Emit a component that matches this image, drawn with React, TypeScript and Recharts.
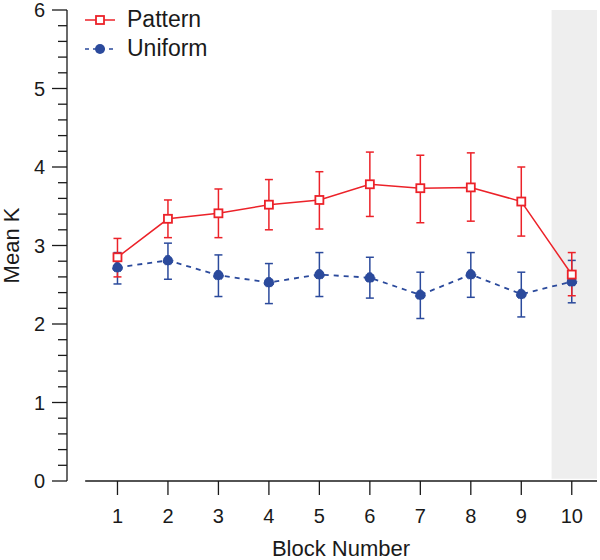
import {
  ComposedChart,
  ErrorBar,
  Label,
  Legend,
  Line,
  ReferenceArea,
  ReferenceLine,
  XAxis,
  YAxis,
} from "recharts"

const blocks = [1, 2, 3, 4, 5, 6, 7, 8, 9, 10]

const patternMean = [2.85, 3.34, 3.41, 3.52, 3.58, 3.78, 3.73, 3.74, 3.56, 2.63]
const patternLow = [2.6, 3.1, 3.1, 3.2, 3.21, 3.37, 3.29, 3.31, 3.12, 2.36]
const patternHigh = [3.09, 3.58, 3.72, 3.84, 3.94, 4.19, 4.15, 4.18, 4.0, 2.91]

const uniformMean = [2.72, 2.81, 2.62, 2.53, 2.63, 2.59, 2.37, 2.63, 2.38, 2.54]
const uniformLow = [2.51, 2.57, 2.35, 2.26, 2.35, 2.33, 2.07, 2.34, 2.09, 2.27]
const uniformHigh = [2.91, 3.03, 2.88, 2.77, 2.91, 2.85, 2.66, 2.91, 2.66, 2.81]

const xTicks = [1, 2, 3, 4, 5, 6, 7, 8, 9, 10]
const yMajorTicks = [0, 1, 2, 3, 4, 5, 6]
const yTicks = yMajorTicks
  .flatMap((t) => (t < 6 ? [t, t + 0.2, t + 0.4, t + 0.6, t + 0.8] : [t]))
  .map((t) => Math.round(t * 10) / 10)

const RED = "#ec2229"
const BLUE = "#2b4a9c"
const INK = "#1a1a1a"
const FONT = '"Liberation Sans", Arial, Helvetica, sans-serif'

const data = blocks.map((b, i) => ({
  block: b,
  pattern: patternMean[i],
  patternErr: [patternMean[i] - patternLow[i], patternHigh[i] - patternMean[i]],
  uniform: uniformMean[i],
  uniformErr: [uniformMean[i] - uniformLow[i], uniformHigh[i] - uniformMean[i]],
}))

const Y_TICK_SIZE = 15
const Y_TICK_MARGIN = 7

function YTick(props: any) {
  const { x, y, payload } = props
  const axisX = x + Y_TICK_SIZE + Y_TICK_MARGIN
  const v = payload.value as number
  const major = Math.abs(v - Math.round(v)) < 1e-6
  return (
    <g>
      <line
        x1={axisX - (major ? Y_TICK_SIZE : 9)}
        x2={axisX}
        y1={y}
        y2={y}
        stroke={INK}
        strokeWidth={1.3}
      />
      {major && (
        <text
          x={x}
          y={y}
          dy="0.355em"
          textAnchor="end"
          fontSize={20}
          fill={INK}
          fontFamily={FONT}
        >
          {v}
        </text>
      )}
    </g>
  )
}

function SquareDot(props: any) {
  const { cx, cy } = props
  if (cx == null || cy == null) return null
  return (
    <rect
      x={cx - 4}
      y={cy - 4}
      width={8}
      height={8}
      fill="#fff"
      stroke={RED}
      strokeWidth={1.8}
    />
  )
}

function LegendContent() {
  const rows = [
    { name: "Pattern", color: RED, dash: undefined, square: true },
    { name: "Uniform", color: BLUE, dash: "4 4", square: false },
  ]
  return (
    <div style={{ fontFamily: FONT }}>
      {rows.map((r) => (
        <div
          key={r.name}
          style={{ display: "flex", alignItems: "center", height: 29 }}
        >
          <svg width={32} height={20} style={{ marginRight: 11 }}>
            <line
              x1={1}
              x2={31}
              y1={10}
              y2={10}
              stroke={r.color}
              strokeWidth={1.5}
              strokeDasharray={r.dash}
            />
            {r.square ? (
              <rect
                x={12}
                y={6}
                width={8}
                height={8}
                fill="#fff"
                stroke={r.color}
                strokeWidth={1.8}
              />
            ) : (
              <circle cx={16} cy={10} r={5} fill={r.color} />
            )}
          </svg>
          <span style={{ fontSize: 23, color: INK, lineHeight: 1 }}>
            {r.name}
          </span>
        </div>
      ))}
    </div>
  )
}

export default function App() {
  return (
    <div
      style={{
        position: "absolute",
        left: 0,
        top: 0,
        width: 600,
        height: 560,
        background: "#fff",
        fontFamily: FONT,
      }}
    >
      <ComposedChart
        width={600}
        height={560}
        data={data}
        margin={{ top: 10, right: 3, left: 0, bottom: 0 }}
      >
        <ReferenceArea
          x1={9.6}
          x2={10.5}
          y1={0.03}
          y2={6}
          fill="#eeeeee"
          fillOpacity={1}
          stroke="none"
          ifOverflow="extendDomain"
        />
        <XAxis
          type="number"
          dataKey="block"
          domain={[0, 10.5]}
          ticks={xTicks}
          interval={0}
          allowDataOverflow
          axisLine={false}
          tickLine={{ stroke: INK, strokeWidth: 1.3 }}
          tickSize={14}
          tickMargin={14}
          height={79}
          tick={{ fill: INK, fontSize: 20, fontFamily: FONT }}
        >
          <Label
            content={(p: any) => {
              const vb = p.viewBox
              return (
                <text
                  x={vb.x + vb.width / 2 + 9}
                  y={vb.y + vb.height - 4}
                  textAnchor="middle"
                  fontSize={22}
                  fill={INK}
                  fontFamily={FONT}
                >
                  Block Number
                </text>
              )
            }}
          />
        </XAxis>
        <YAxis
          type="number"
          domain={[0, 6]}
          ticks={yTicks}
          interval={0}
          allowDataOverflow
          width={67}
          axisLine={{ stroke: INK, strokeWidth: 1.3 }}
          tickLine={false}
          tickSize={Y_TICK_SIZE}
          tickMargin={Y_TICK_MARGIN}
          tick={<YTick />}
        >
          <Label
            content={(p: any) => {
              const vb = p.viewBox
              const cx = vb.x + 11
              const cy = vb.y + vb.height / 2
              return (
                <text
                  x={cx}
                  y={cy}
                  transform={`rotate(-90 ${cx} ${cy})`}
                  textAnchor="middle"
                  dy="0.355em"
                  fontSize={22}
                  fill={INK}
                  fontFamily={FONT}
                >
                  Mean K
                </text>
              )
            }}
          />
        </YAxis>
        <ReferenceLine
          segment={[
            { x: 0.36, y: 0 },
            { x: 10.5, y: 0 },
          ]}
          stroke={INK}
          strokeWidth={1.3}
        />
        <Legend
          layout="horizontal"
          verticalAlign="middle"
          align="center"
          wrapperStyle={{ left: 84, top: 5, width: 200 }}
          content={<LegendContent />}
        />
        <Line
          type="linear"
          dataKey="uniform"
          stroke={BLUE}
          strokeWidth={1.8}
          strokeDasharray="5 5"
          dot={{ r: 5, fill: BLUE, stroke: BLUE, strokeWidth: 1 }}
          activeDot={false}
          isAnimationActive={false}
        >
          <ErrorBar
            dataKey="uniformErr"
            direction="y"
            width={4}
            stroke={BLUE}
            strokeWidth={1.5}
            isAnimationActive={false}
          />
        </Line>
        <Line
          type="linear"
          dataKey="pattern"
          stroke={RED}
          strokeWidth={1.5}
          dot={<SquareDot />}
          activeDot={false}
          isAnimationActive={false}
        >
          <ErrorBar
            dataKey="patternErr"
            direction="y"
            width={4}
            stroke={RED}
            strokeWidth={1.5}
            isAnimationActive={false}
          />
        </Line>
      </ComposedChart>
    </div>
  )
}
